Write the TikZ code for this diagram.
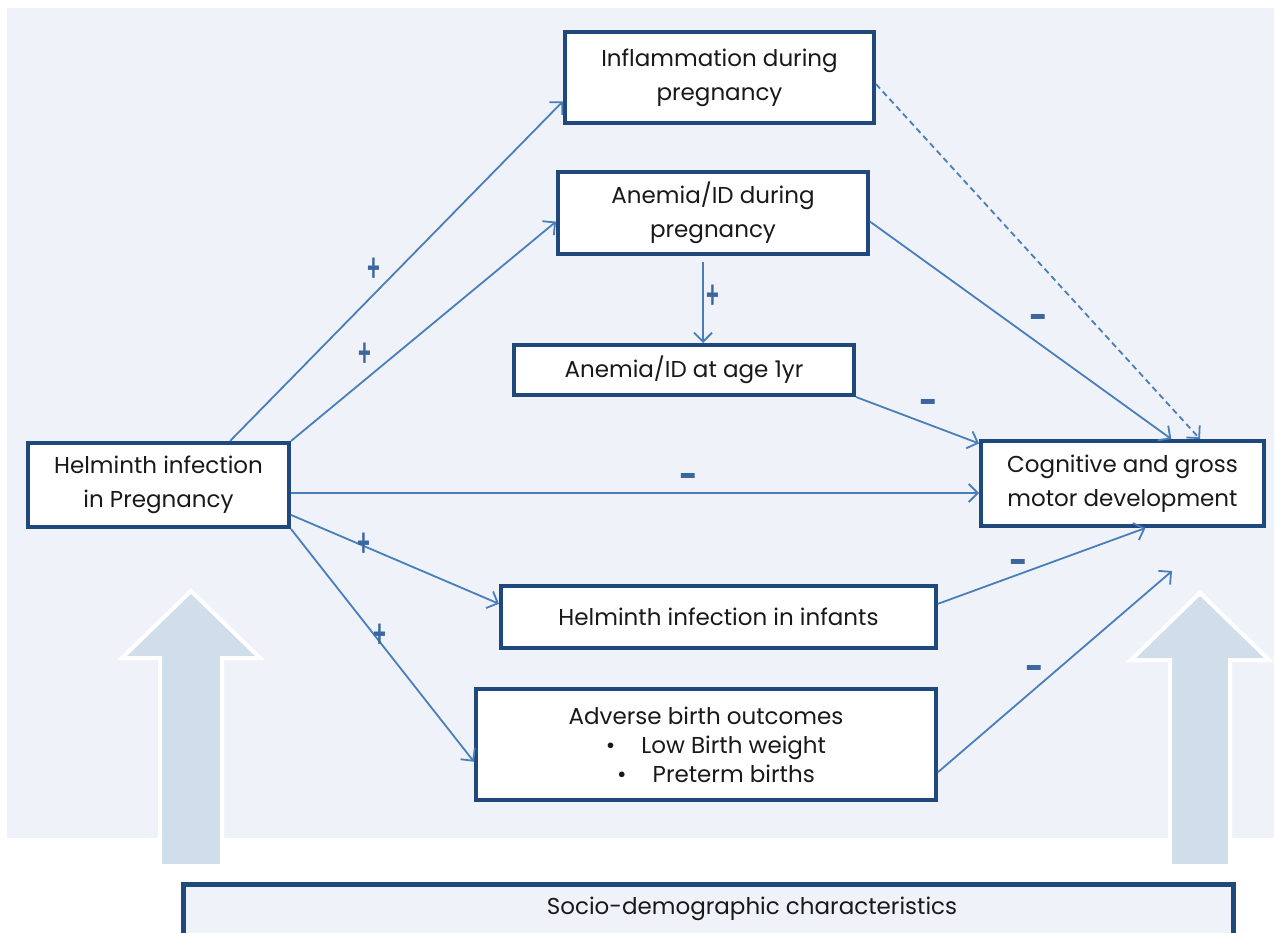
\documentclass[tikz,border=0pt]{standalone}
\usepackage{fontspec}
\setmainfont{Poppins}
\newfontfamily\signfont{Liberation Sans}
\usetikzlibrary{arrows.meta,calc}
\definecolor{panel}{HTML}{EFF3F9}
\definecolor{boxline}{HTML}{1F497D}
\definecolor{connc}{HTML}{4A7EBB}
\definecolor{bigarrow}{HTML}{D0DDEB}
\definecolor{signc}{HTML}{3B669E}
\begin{document}
\begin{tikzpicture}[x=1pt,y=-1pt,
 box/.style={draw=boxline, line width=4pt, fill=white, inner sep=0pt, align=center, text=black!90, font=\fontsize{23}{34}\selectfont},
 link/.style={draw=connc, line width=1.8pt, -{Straight Barb[length=9pt,width=18pt]}},
 plussign/.style={text=signc, font=\signfont\bfseries\fontsize{40}{40}\selectfont, xscale=0.55, inner sep=0pt},
 minussign/.style={text=signc, font=\signfont\bfseries\fontsize{28}{28}\selectfont, yscale=1.8, inner sep=0pt},
 bigarr/.style={fill=bigarrow, draw=white, line width=4pt, line join=miter}
]
\useasboundingbox (0,0) rectangle (1274,932);
\clip (0,0) rectangle (1274,932);
% background panel
\fill[panel] (7,8) rectangle (1274,838);
% big arrows
\draw[bigarr] (160,866) -- (160,658) -- (122,658) -- (191,591) -- (260,658) -- (222,658) -- (222,866) -- cycle;
\draw[bigarr] (1170,866) -- (1170,660) -- (1131,660) -- (1200,593) -- (1269,660) -- (1230,660) -- (1230,866) -- cycle;

% boxes
\node[box, minimum width=309pt, minimum height=91pt] (infl) at (719.5,77.5) {Inflammation during\\pregnancy};
\node[box, minimum width=310pt, minimum height=82pt] (anp) at (713,213) {Anemia/ID during\\pregnancy};
\node[box, minimum width=340pt, minimum height=50pt] (an1) at (684,370) {Anemia/ID at age 1yr};
\node[box, minimum width=261pt, minimum height=84pt] (helm) at (158.5,485) {Helminth infection\\in Pregnancy};
\node[box, minimum width=283pt, minimum height=85pt] (cog) at (1122.5,483.5) {Cognitive and gross\\motor development};
\node[box, minimum width=435pt, minimum height=62pt] (inf) at (718.5,617) {Helminth infection in infants};
\node[box, minimum width=460pt, minimum height=111pt, font=\fontsize{23}{29}\selectfont] (adv) at (706,744.5) {Adverse birth outcomes\\\hspace*{20pt}\textbullet\hspace{26pt}Low Birth weight\\\hspace*{20pt}\textbullet\hspace{26pt}Preterm births};

% connectors
\coordinate (hy) at (0,493);
\coordinate (freeend) at (1172,571);
\draw[link] ($(helm.north west)!0.77!(helm.north east)$) -- ($(infl.north west)!0.75!(infl.south west)$);
\draw[link] (helm.north east) -- ($(anp.north west)!0.6!(anp.south west)$);
\draw[link] ([xshift=-10pt,yshift=-6pt]anp.south) -- ([xshift=-10pt]anp.south |- an1.north);
\draw[link] (an1.south east) -- ($(cog.north west)!0.05!(cog.south west)$);
\draw[link] (helm.east |- hy) -- (cog.west |- hy);
\draw[link] ($(helm.north east)!0.84!(helm.south east)$) -- ($(inf.north west)!0.3!(inf.south west)$);
\draw[link] (helm.south east) -- ($(adv.north west)!0.65!(adv.south west)$);
\draw[link] ($(inf.north east)!0.3!(inf.south east)$) -- ($(cog.south west)!0.58!(cog.south east)$);
\draw[link] ($(adv.north east)!0.74!(adv.south east)$) -- (freeend);
\draw[link] ($(anp.north east)!0.6!(anp.south east)$) -- ($(cog.north west)!0.67!(cog.north east)$);
\draw[link, dashed, dash pattern=on 6pt off 4pt] ($(infl.north east)!0.57!(infl.south east)$) -- ($(cog.north west)!0.77!(cog.north east)$);

% signs
\node[plussign] (p1) at (374,270) {+};
\node[plussign] (p2) at (365,355) {+};
\node[plussign] (p3) at (713,297) {+};
\node[plussign] (p4) at (364,545) {+};
\node[plussign] (p5) at (380,636) {+};
\node[minussign] (m1) at (1038,322) {–};
\node[minussign] (m2) at (928,407) {–};
\node[minussign] (m3) at (688,481) {–};
\node[minussign] (m4) at (1018,567) {–};
\node[minussign] (m5) at (1034,673) {–};

% socio-demographic box
\node[draw=boxline, line width=5pt, fill=panel, minimum width=1050pt, minimum height=60pt, inner sep=0pt, anchor=north west] (socio) at (180.5,881.5) {};
\node[text=black!90, font=\fontsize{23}{28}\selectfont, inner sep=0pt] (sociotext) at (752,909) {Socio-demographic characteristics};
\end{tikzpicture}
\end{document}
